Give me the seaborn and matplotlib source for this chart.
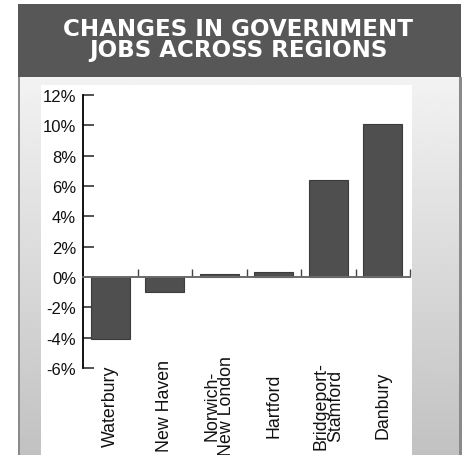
import numpy as np
import pandas as pd
import matplotlib
matplotlib.use("Agg")
import matplotlib.pyplot as plt
import matplotlib.transforms as mtransforms
from matplotlib.patches import Rectangle
import seaborn as sns

# Regional change in government employment (percent)
regions = ["Waterbury", "New Haven", "Norwich-\nNew London", "Hartford",
           "Bridgeport-\nStamford", "Danbury"]
changes = [-4.1, -1.0, 0.2, 0.3, 6.4, 10.1]
ytick_values = [-6, -4, -2, 0, 2, 4, 6, 8, 10, 12]
ytick_labels = [f"{v}%" for v in ytick_values]
title_lines = ["CHANGES IN GOVERNMENT", "JOBS ACROSS REGIONS"]

sns.set_theme(style="white")
plt.rcParams["font.family"] = ["Liberation Sans", "DejaVu Sans"]

W, H = 463, 456
fig = plt.figure(figsize=(W / 100, H / 100), dpi=100)
fig.patch.set_facecolor("white")

# Frame, header band and shaded side panels, laid out in pixel units
bg = fig.add_axes([0, 0, 1, 1])
bg.set_xlim(0, W)
bg.set_ylim(H, 0)
bg.axis("off")
bg.add_patch(Rectangle((18, 5), 443, 73, facecolor="#575757", edgecolor="none"))
grad = np.linspace(0.95, 0.76, 256).reshape(-1, 1)
bg.imshow(grad, cmap="gray", vmin=0, vmax=1, aspect="auto",
          extent=(20, 459, H, 78), interpolation="bilinear", zorder=1)
bg.add_patch(Rectangle((18, 78), 2, H - 78, facecolor="#8a8a8a", edgecolor="none", zorder=2))
bg.add_patch(Rectangle((459, 78), 3, H - 78, facecolor="#8a8a8a", edgecolor="none", zorder=2))
bg.add_patch(Rectangle((41, 86), 371, H - 86, facecolor="white", edgecolor="none", zorder=2))

for line, base in zip(title_lines, [35.5, 57.5]):
    bg.text(238, base, line, ha="center", va="baseline", color="white",
            fontsize=16.6, fontweight="bold", family=["DejaVu Sans"], zorder=3)

# Bar chart
ax = fig.add_axes([83 / W, 1 - 369 / H, (410 - 83) / W, (369 - 96) / H])
ax.set_facecolor("none")
df = pd.DataFrame({"region": regions, "change": changes})
sns.barplot(data=df, x="region", y="change", color="#4f4f4f", saturation=1,
            width=0.72, edgecolor="#3c3c3c", linewidth=0.8, ax=ax, zorder=2)

ax.set_xlim(-0.5, 5.5)
ax.set_ylim(-6, 12)
ax.set_yticks(ytick_values)
ax.set_yticklabels(ytick_labels)
ax.set_xlabel("")
ax.set_ylabel("")

for side in ["top", "right"]:
    ax.spines[side].set_visible(False)
ax.spines["left"].set_color("black")
ax.spines["left"].set_linewidth(1.3)
ax.spines["bottom"].set_position(("data", 0))
ax.spines["bottom"].set_color("#6a6a6a")
ax.spines["bottom"].set_linewidth(1.4)
ax.spines["bottom"].set_zorder(3)

ax.tick_params(axis="y", left=True, direction="in", length=8, width=1.2,
               color="#333333", labelsize=12, pad=5, labelcolor="#111111")
ax.set_xticks(np.arange(0.5, 6.0, 1.0))
ax.set_xticklabels([])
ax.tick_params(axis="x", bottom=True, direction="in", length=6, width=1.0,
               color="#444444")

trans = mtransforms.blended_transform_factory(ax.transData, ax.transAxes)
for i, name in enumerate(regions):
    ax.text(i, -0.135, name, transform=trans, rotation=90, ha="center",
            va="center", fontsize=12.8, linespacing=0.8, color="#111111",
            clip_on=False)

fig.savefig("out.png", dpi=100)
